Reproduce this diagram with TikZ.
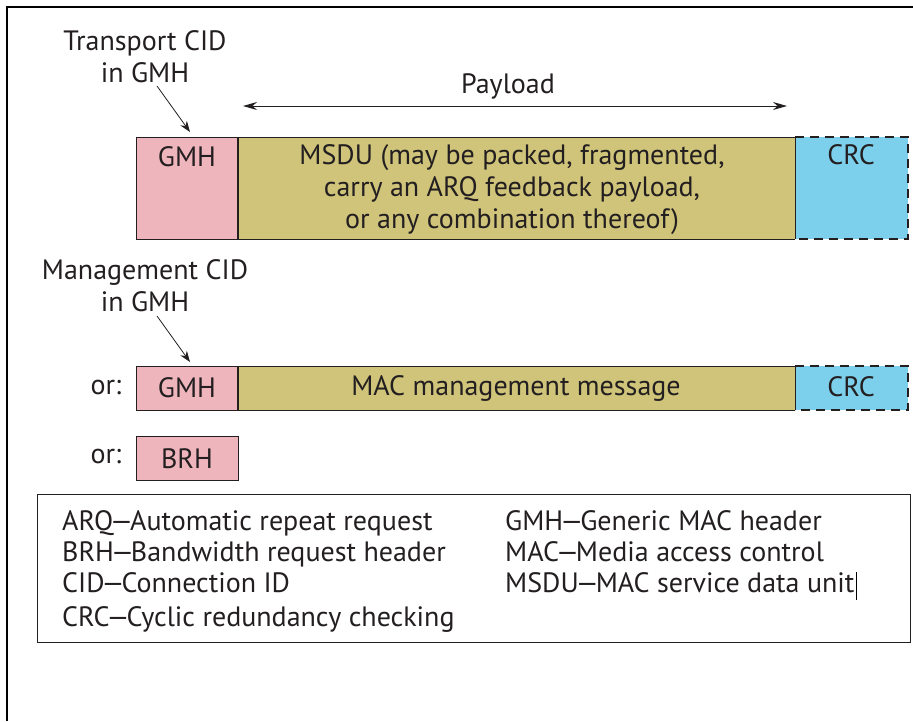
\documentclass[tikz,border=0pt]{standalone}
\usepackage{fontspec}
\setmainfont{PT Sans}
\usetikzlibrary{arrows.meta}
\definecolor{gmhpink}{RGB}{239,181,188}
\definecolor{msduolive}{RGB}{207,196,122}
\definecolor{crcblue}{RGB}{125,208,236}
\definecolor{txt}{RGB}{35,31,32}
\newcommand{\dsh}{\kern-3pt—\kern-3pt}
\begin{document}
\begin{tikzpicture}[x=1pt,y=-1pt,
  every node/.style={font=\fontsize{28}{32}\selectfont, text=txt, inner sep=0pt},
  field/.style={draw=txt, line width=1pt},
  crcfield/.style={draw=txt, line width=1.2pt, dash pattern=on 9pt off 6pt},
  lbl/.style={align=center},
  leg/.style={anchor=base west},
  ptr/.style={-{Stealth[length=11pt,width=8pt]}, line width=0.8pt, draw=txt},
  dim/.style={{Stealth[length=14pt,width=8pt]}-{Stealth[length=14pt,width=8pt]}, line width=1pt, draw=txt}]
\useasboundingbox (0,0) rectangle (913,721);
\fill[white] (0,0) rectangle (913,721);
% outer frame
\draw[line width=2.5pt, black] (7,721) -- (7,7) -- (913,7);

% labels
\node[lbl] (tcid) at (145,57) {Transport CID\\in GMH};
\node (payload) at (508,86) {Payload};
\coordinate (pl) at (243,106);
\coordinate (pr) at (787,106);
\draw[dim] (pl) -- (pr);

% row 1
\fill[gmhpink] (136,137) rectangle (238,239);
\fill[msduolive] (238,137) rectangle (795,239);
\fill[crcblue] (795,137) rectangle (908,239);
\draw[field] (795,137) -- (136,137) -- (136,239) -- (795,239);
\draw[field, line width=1.6pt] (238,137) -- (238,239);
\draw[field] (795,137) -- (795,239);
\draw[crcfield] (795,137) -- (908,137) -- (908,239) -- (795,239);
\node (gmh1) at (187,157) {GMH};
\node[lbl] (msdu) at (512,190) {MSDU (may be packed, fragmented,\\carry an ARQ feedback payload,\\or any combination thereof)};
\node (crc1) at (851,155) {CRC};
\coordinate (g1top) at (190,132);
\draw[ptr] (157,86) -- (g1top);

% row 2
\node[lbl] (mcid) at (145,286) {Management CID\\in GMH};
\fill[gmhpink] (136,366) rectangle (238,410);
\fill[msduolive] (238,366) rectangle (795,410);
\fill[crcblue] (795,366) rectangle (908,410);
\draw[field] (795,366) -- (136,366) -- (136,410) -- (795,410);
\draw[field, line width=1.6pt] (238,366) -- (238,410);
\draw[field] (795,366) -- (795,410);
\draw[crcfield] (795,366) -- (908,366) -- (908,410) -- (795,410);
\node (or1) at (106,387) {or:};
\node (gmh2) at (187,388) {GMH};
\node (mac) at (516,388) {MAC management message};
\node (crc2) at (851,387) {CRC};
\coordinate (g2top) at (190,362);
\draw[ptr] (157,316) -- (g2top);

% row 3
\node (or2) at (106,456) {or:};
\fill[gmhpink] (136,436) rectangle (238,480);
\draw[field] (136,436) rectangle (238,480);
\node (brh) at (187,459) {BRH};

% legend
\draw[line width=1pt, draw=txt] (37,494) rectangle (910,642);
\node[leg] (l1) at (62,530) {ARQ\dsh Automatic repeat request};
\node[leg] (l2) at (62,561) {BRH\dsh Bandwidth request header};
\node[leg] (l3) at (62,592) {CID\dsh Connection ID};
\node[leg] (l4) at (62,626) {CRC\dsh Cyclic redundancy checking};
\node[leg] (r1) at (505,530) {GMH\dsh Generic MAC header};
\node[leg] (r2) at (505,561) {MAC\dsh Media access control};
\node[leg] (r3) at (505,592) {MSDU\dsh MAC service data unit};
\draw[line width=1pt, black] ([xshift=2pt,yshift=20pt]r3.base east) -- ++(0,28);
\end{tikzpicture}
\end{document}
